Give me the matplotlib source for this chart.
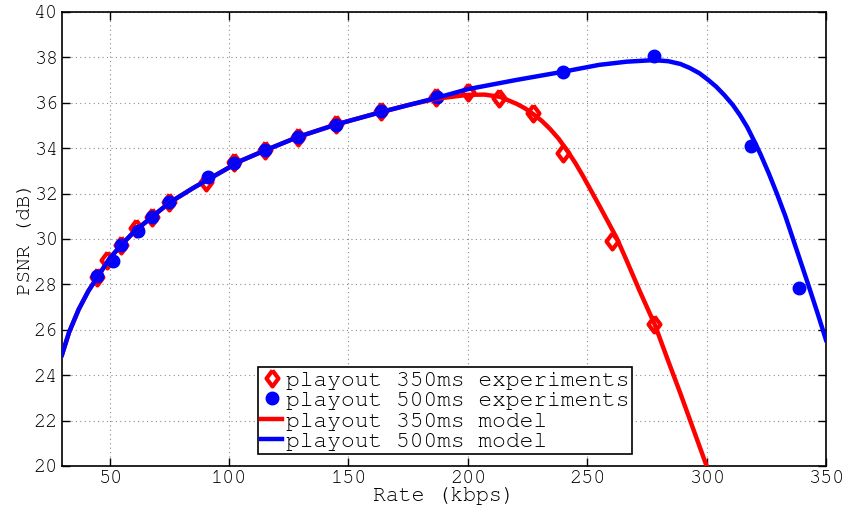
import matplotlib
matplotlib.use("Agg")
import matplotlib.pyplot as plt

# ----------------------------------
# Data
# ----------------------------------

rate_350 = [44.5, 49.0, 54.7, 60.9, 67.8, 74.8, 90.3, 102.0, 114.9, 128.8,
            144.8, 163.6, 186.7, 200.1, 213.0, 227.1, 240.0, 260.2, 278.1]
psnr_350 = [28.34, 29.07, 29.74, 30.47, 30.98, 31.64, 32.52, 33.41, 33.92, 34.51,
            35.07, 35.64, 36.26, 36.48, 36.22, 35.56, 33.78, 29.91, 26.26]

rate_500 = [44.5, 51.2, 54.7, 61.7, 67.8, 74.8, 91.0, 102.0, 114.9, 128.8,
            144.8, 163.6, 186.9, 240.0, 278.0, 318.5, 338.8]
psnr_500 = [28.37, 29.03, 29.74, 30.37, 30.98, 31.62, 32.72, 33.36, 33.90, 34.50,
            35.02, 35.62, 36.24, 37.37, 38.07, 34.10, 27.83]

model_rate_350 = [30, 31.5, 33, 37, 41, 45, 50, 55, 60, 68, 75, 85, 95, 105, 115,
                  129, 145, 164, 175, 187, 200, 207, 213.5, 220.5, 224, 227.4,
                  231, 234.4, 238, 241.4, 245, 248.4, 255.3, 262.3, 266.5, 272,
                  278.4, 284, 289, 294.5, 300]
model_psnr_350 = [24.9, 25.4, 25.9, 26.9, 27.7, 28.35, 29.15, 29.75, 30.3, 31.0,
                  31.6, 32.25, 32.85, 33.45, 33.9, 34.5, 35.05, 35.6, 35.9, 36.18,
                  36.35, 36.36, 36.26, 35.95, 35.75, 35.5, 35.2, 34.85, 34.42,
                  33.92, 33.35, 32.74, 31.42, 30.05, 29.05, 27.7, 26.2, 24.6,
                  23.2, 21.6, 20.0]

model_rate_500 = [30, 31.5, 33, 37, 41, 45, 50, 55, 60, 68, 75, 85, 95, 105, 115,
                  129, 145, 164, 187, 200, 220, 240, 255, 266.5, 278, 284, 289,
                  293, 297, 300.5, 304, 307.5, 311, 314, 317, 320, 322.5, 326,
                  329.5, 333, 336.5, 340, 343, 346.5, 350]
model_psnr_500 = [24.9, 25.4, 25.9, 26.9, 27.7, 28.35, 29.15, 29.75, 30.3, 31.0,
                  31.6, 32.25, 32.85, 33.45, 33.9, 34.5, 35.05, 35.6, 36.22, 36.6,
                  37.0, 37.37, 37.67, 37.81, 37.88, 37.83, 37.71, 37.53, 37.3,
                  37.02, 36.71, 36.33, 35.9, 35.45, 34.93, 34.3, 33.75, 32.9,
                  31.98, 31.0, 29.9, 28.8, 27.85, 26.72, 25.55]

x_ticks = [50, 100, 150, 200, 250, 300, 350]
y_ticks = [20, 22, 24, 26, 28, 30, 32, 34, 36, 38, 40]

# ----------------------------------
# Plot
# ----------------------------------

plt.rcParams["font.family"] = ["Nimbus Mono PS", "Courier New", "FreeMono",
                               "Liberation Mono", "DejaVu Sans Mono"]

# MATLAB-like diamond (wider than matplotlib's "d")
diamond = [(0, 1), (0.75, 0), (0, -1), (-0.75, 0), (0, 1)]

fig = plt.figure(figsize=(8.47, 5.14), dpi=100, facecolor="white")
ax = fig.add_axes([0.0732, 0.0934, 0.902, 0.8833])

ax.plot(rate_350, psnr_350, linestyle="none", marker=diamond,
        markersize=11.5, markerfacecolor="white", markeredgecolor="red",
        markeredgewidth=3, label="playout 350ms experiments", zorder=3)
ax.plot(rate_500, psnr_500, linestyle="none", marker="o",
        markersize=9, color="blue", label="playout 500ms experiments", zorder=3)
ax.plot(model_rate_350, model_psnr_350, color="red", linewidth=3.2,
        solid_joinstyle="round", label="playout 350ms model", zorder=4)
ax.plot(model_rate_500, model_psnr_500, color="blue", linewidth=3.2,
        solid_joinstyle="round", label="playout 500ms model", zorder=5)

ax.set_xlim(30, 350)
ax.set_ylim(20, 40)
ax.set_xticks(x_ticks)
ax.set_yticks(y_ticks)

ax.tick_params(direction="in", length=6, width=1, labelsize=14.5,
               top=True, right=True, pad=3)
for s in ax.spines.values():
    s.set_linewidth(1.2)

ax.grid(True, linestyle=(0, (1, 3)), color="#8c8c8c", linewidth=0.8)
ax.set_axisbelow(True)

ax.set_xlabel("Rate (kbps)", fontsize=15.5, labelpad=0)
ax.set_ylabel("PSNR (dB)", fontsize=15, labelpad=0)

leg = ax.legend(loc="lower left", bbox_to_anchor=(258 / 847, 60 / 514),
                bbox_transform=fig.transFigure, borderaxespad=0,
                fontsize=16.5, handlelength=0.9, handletextpad=0.15,
                labelspacing=0.0, borderpad=0.15, fancybox=False,
                framealpha=1, edgecolor="black")
leg.get_frame().set_linewidth(1.2)

plt.savefig("out.png", dpi=100, facecolor="white")
